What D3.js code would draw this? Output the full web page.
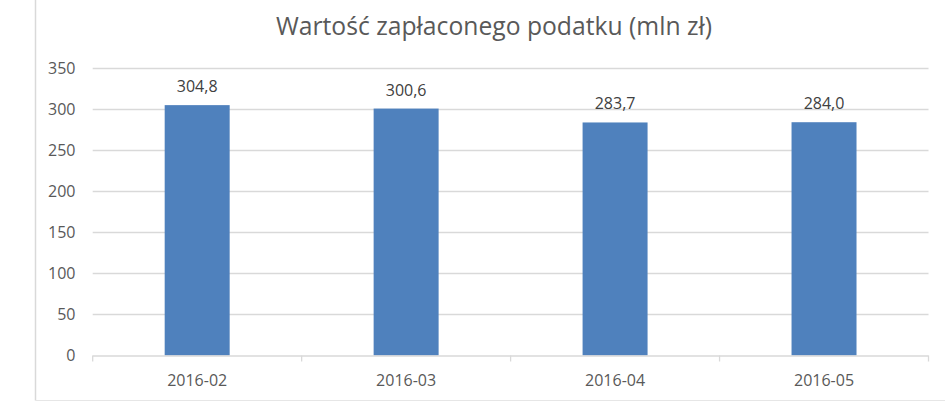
<!DOCTYPE html>
<html>
<head>
<meta charset="utf-8">
<script src="https://cdn.jsdelivr.net/npm/d3@7"></script>
<style>
  body { margin: 0; background: #fff; }
  svg { display: block; font-family: "Open Sans", sans-serif; }
</style>
</head>
<body>
<svg id="chart"></svg>
<script>
(function () {
    var categories = ['2016-02', '2016-03', '2016-04', '2016-05'];
    var values = [304.8, 300.6, 283.7, 284.0];
    var yTicks = [0, 50, 100, 150, 200, 250, 300, 350];
    var title = 'Wartość zapłaconego podatku (mln zł)';

    var width = 945, height = 402;
    var left = 92.7, right = 928.5, top = 68, bottom = 355.5;
    var textColor = '#595959', gridColor = '#d9d9d9';

    var svg = d3.select('#chart').attr('width', width).attr('height', height);

    // frame bits visible in the crop
    svg.append('line').attr('x1', 35.5).attr('x2', 35.5).attr('y1', 0).attr('y2', 400.5)
        .attr('stroke', gridColor).attr('stroke-width', 1.5);
    svg.append('line').attr('x1', 35.5).attr('x2', width).attr('y1', 400.5).attr('y2', 400.5)
        .attr('stroke', '#e6e6e6').attr('stroke-width', 1);

    svg.append('text').attr('x', 494).attr('y', 34.5).attr('text-anchor', 'middle')
        .attr('fill', textColor).style('font-size', '24.7px').text(title);

    var x = d3.scaleBand().domain(categories).range([left, right]).paddingInner(0.689).paddingOuter(0.3445);
    var xb = d3.scaleBand().domain(categories).range([left, right]);
    var y = d3.scaleLinear().domain([0, 350]).range([bottom, top]);

    // gridlines
    svg.append('g').selectAll('line').data(yTicks.filter(d => d > 0)).enter().append('line')
        .attr('x1', left).attr('x2', right)
        .attr('y1', d => Math.round(y(d)) + 0.5).attr('y2', d => Math.round(y(d)) + 0.5)
        .attr('stroke', gridColor).attr('stroke-width', 1.3);

    // y labels
    svg.append('g').selectAll('text').data(yTicks).enter().append('text')
        .attr('x', 75.5).attr('y', d => y(d)).attr('dy', '0.36em')
        .attr('text-anchor', 'end').attr('fill', textColor).style('font-size', '16px')
        .text(d => d);

    // bars
    svg.append('g').selectAll('rect').data(values).enter().append('rect')
        .attr('x', (d, i) => x(categories[i]))
        .attr('y', d => y(d))
        .attr('width', x.bandwidth())
        .attr('height', d => bottom - y(d))
        .attr('fill', '#4f81bd');

    // x axis line + ticks
    svg.append('line').attr('x1', left).attr('x2', right).attr('y1', bottom + 0.5).attr('y2', bottom + 0.5)
        .attr('stroke', gridColor).attr('stroke-width', 1.3);
    var tickX = categories.map(c => xb(c)).concat([right]);
    svg.append('g').selectAll('line').data(tickX).enter().append('line')
        .attr('x1', d => d).attr('x2', d => d).attr('y1', bottom).attr('y2', bottom + 6)
        .attr('stroke', gridColor).attr('stroke-width', 1.3);

    // category labels
    svg.append('g').selectAll('text').data(categories).enter().append('text')
        .attr('x', d => xb(d) + xb.bandwidth() / 2).attr('y', 385.5)
        .attr('text-anchor', 'middle').attr('fill', textColor).style('font-size', '16px')
        .text(d => d);

    // value labels
    var fmt = d3.format('.1f');
    svg.append('g').selectAll('text').data(values).enter().append('text')
        .attr('x', (d, i) => xb(categories[i]) + xb.bandwidth() / 2).attr('y', d => y(d) - 13)
        .attr('text-anchor', 'middle').attr('fill', '#404040').style('font-size', '16px')
        .text(d => fmt(d).replace('.', ','));
})();
</script>
</body>
</html>
